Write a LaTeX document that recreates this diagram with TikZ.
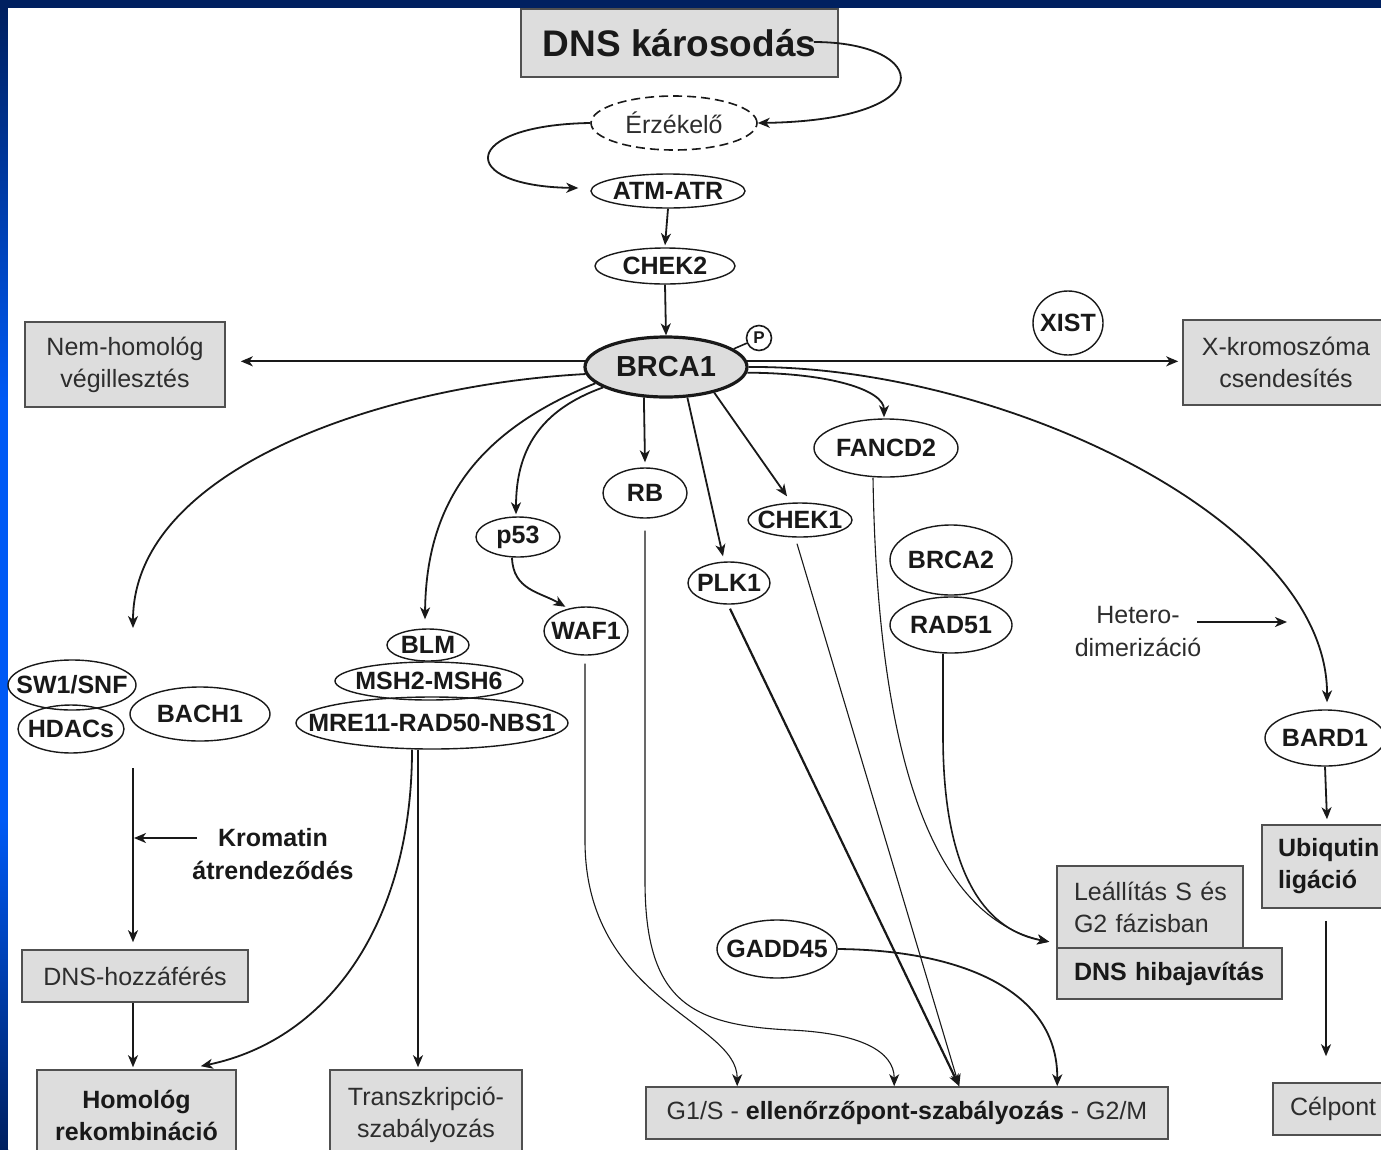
\documentclass[tikz,border=0pt]{standalone}
\usepackage{fontspec}
\setmainfont{Liberation Sans}
\usetikzlibrary{shapes.geometric,arrows.meta,calc}

\definecolor{navy}{RGB}{0,32,96}
\definecolor{slideblue}{RGB}{0,90,245}
\definecolor{boxgray}{RGB}{221,221,221}
\definecolor{edgegray}{RGB}{80,80,80}
\definecolor{ink}{RGB}{25,25,25}
\definecolor{softink}{RGB}{45,45,45}

\begin{document}
\begin{tikzpicture}[x=1pt,y=-1pt,
  >={Stealth[length=12pt,width=10pt,inset=3.5pt]},
  lab/.style={inner sep=0pt,text=ink,font=\fontsize{25}{31}\selectfont\bfseries},
  oval/.style={ellipse,draw=ink,line width=1.4pt,inner sep=0pt},
  box/.style={rectangle,draw=edgegray,fill=boxgray,line width=1.6pt,inner sep=0pt,
    text=softink,align=center,font=\fontsize{25}{32}\selectfont},
  boldbox/.style={box,text=ink,font=\fontsize{25}{32}\selectfont\bfseries},
  conn/.style={draw=ink,line width=1.8pt,->},
  lite/.style={draw=ink,line width=1.1pt,->},
]
\useasboundingbox (0,0) rectangle (1381,1149);
\clip (0,0) rectangle (1381,1149);

% slide frame
\fill[navy] (0,0) rectangle (1381,1149);
\shade[top color=navy,bottom color=slideblue] (0,8) rectangle (8,400);
\fill[slideblue] (0,399) rectangle (8,821);
\shade[top color=slideblue,bottom color=navy] (0,820) rectangle (8,1149);
\fill[white] (8,8) rectangle (1381,1149);

% ---------- boxes ----------
\node[box,font=\fontsize{37}{40}\selectfont\bfseries,text=ink,
  minimum width=317pt,minimum height=68pt] (dns) at (679.5,43) {DNS károsodás};
\node[box,minimum width=200pt,minimum height=85pt] (nem) at (125,364.5) {Nem-homológ\\végillesztés};
\node[box,minimum width=206pt,minimum height=85pt] (xk) at (1286,362.5) {X-kromoszóma\\csendesítés};
\node[box,minimum width=226pt,minimum height=52pt] (dnsh) at (135,976) {DNS-hozzáférés};
\node[boldbox,minimum width=199pt,minimum height=90pt] (homol) at (136.5,1115) {Homológ\\rekombináció};
\node[box,minimum width=192pt,minimum height=90pt] (transz) at (426,1115) {Transzkripció-\\szabályozás};
\node[box,minimum width=522pt,minimum height=52pt] (g1s) at (907,1113)
  {G1/S - \textbf{\color{ink}ellenőrzőpont-szabályozás} - G2/M};
\node[box,align=left,text width=152pt,inner xsep=17pt,minimum height=82pt] (leall) at (1150,907)
  {\mbox{Leállítás S és}\\\mbox{G2 fázisban}};
\node[boldbox,align=left,text width=191pt,inner xsep=17pt,minimum height=51pt] (hiba) at (1169.5,973.5)
  {DNS hibajavítás};
\node[boldbox,align=left,text width=106pt,inner xsep=16pt,minimum height=83pt] (ubiq) at (1331,866.5)
  {Ubiqutin\\ligáció};
\node[box,align=left,text width=93pt,inner xsep=17pt,minimum height=52pt] (celp) at (1336.5,1109)
  {Célpont};

% ---------- proteins ----------
\node[oval,dashed,dash pattern=on 9pt off 5pt,line width=1.6pt,minimum width=166pt,minimum height=54pt,
  label={[lab,font=\fontsize{25}{30}\selectfont,text=softink]center:Érzékelő}] (erz) at (674,123) {};
\node[oval,minimum width=154pt,minimum height=34pt,label={[lab]center:ATM-ATR}] (atm) at (668,191) {};
\node[oval,minimum width=140pt,minimum height=36pt,label={[lab]center:CHEK2}] (chek2) at (665,266) {};
\node[oval,fill=boxgray,line width=3.2pt,minimum width=162pt,minimum height=60pt,
  label={[lab,font=\fontsize{29}{30}\selectfont\bfseries]center:BRCA1}] (brca) at (666,367) {};
\node[circle,draw=ink,line width=1.6pt,minimum size=25pt,inner sep=0pt,text=ink,
  font=\fontsize{17}{17}\selectfont\bfseries] (pc) at (759,338) {P};
\node[oval,minimum width=70pt,minimum height=64pt,label={[lab]center:XIST}] (xist) at (1068,323) {};
\node[oval,minimum width=84pt,minimum height=50pt,label={[lab]center:RB}] (rb) at (645,493) {};
\node[oval,minimum width=84pt,minimum height=40pt,label={[lab]center:p53}] (p53) at (518,537) {};
\node[oval,minimum width=84pt,minimum height=48pt,label={[lab]center:WAF1}] (waf1) at (586,631) {};
\node[oval,minimum width=82pt,minimum height=42pt,label={[lab]center:PLK1}] (plk1) at (729,583) {};
\node[oval,minimum width=104pt,minimum height=34pt,label={[lab]center:CHEK1}] (chek1) at (800,520) {};
\node[oval,minimum width=144pt,minimum height=58pt,label={[lab]center:FANCD2}] (fancd2) at (886,448) {};
\node[oval,minimum width=122pt,minimum height=70pt,label={[lab]center:BRCA2}] (brca2) at (951,560) {};
\node[oval,minimum width=122pt,minimum height=56pt,label={[lab]center:RAD51}] (rad51) at (951,625) {};
\node[oval,minimum width=120pt,minimum height=56pt,label={[lab]center:BARD1}] (bard1) at (1325,738) {};
\node[oval,minimum width=120pt,minimum height=58pt,label={[lab]center:GADD45}] (gadd) at (777,949) {};
\node[oval,minimum width=128pt,minimum height=50pt,label={[lab]center:SW1/SNF}] (swi) at (72,685) {};
\node[oval,minimum width=106pt,minimum height=48pt,label={[lab]center:HDACs}] (hdac) at (71,729) {};
\node[oval,minimum width=140pt,minimum height=54pt,label={[lab]center:BACH1}] (bach) at (200,714) {};
\node[oval,minimum width=82pt,minimum height=32pt,label={[lab]center:BLM}] (blm) at (428,645) {};
\node[oval,minimum width=188pt,minimum height=38pt,label={[lab]center:MSH2-MSH6}] (msh) at (429,681) {};
\node[oval,minimum width=272pt,minimum height=52pt,label={[lab]center:MRE11-RAD50-NBS1}] (mre) at (432,723) {};

% ---------- free text ----------
\node[lab,align=center,font=\fontsize{25}{33}\selectfont\bfseries] (krom) at (273,854) {Kromatin\\átrendeződés};
\node[lab,align=center,text=softink,font=\fontsize{25}{33}\selectfont] (het) at (1138,632) {Hetero-\\dimerizáció};

% ---------- signalling cascade ----------
\draw[conn] ($(dns.east)+(-25,-1)$) .. controls (930,42) and (945,120) .. (erz.east);
\draw[conn] (erz.west) .. controls (460,125) and (455,186) .. ($(atm.west)+(-12,-3)$);
\draw[conn] (atm.south) -- ($(chek2.north)+(0,-2)$);
\draw[conn] (chek2.south) -- (brca.north);
\draw[ink,line width=1.6pt] (brca.15) -- (pc.203);

% ---------- BRCA1 targets ----------
\draw[conn] (brca.176) -- ($(brca.176 -| nem.east)+(15,0)$);
\draw[conn] (brca.4) -- ($(brca.4 -| xk.west)+(-4,0)$);
\coordinate (grptop) at (133,628);
\draw[conn] (brca.185) .. controls (380,385) and (133,470) .. (grptop);
\draw[conn] (brca.193) .. controls (480,430) and (426,500) .. ($(blm.north)+(-3,-9)$);
\draw[conn] (brca.198) .. controls (540,410) and (516,450) .. ($(p53.north)+(-2,-2)$);
\draw[conn] (brca.234) -- ($(rb.north)+(0,-5)$);
\draw[conn] (brca.305) -- ($(plk1.north)+(-6,-5)$);
\draw[conn] (brca.332) -- ($(chek1.north)+(-13,-6)$);
\draw[conn] (brca.356) .. controls (830,373) and (884,390) .. ($(fancd2.north)+(-2,-1)$);
\draw[conn] (brca.0) .. controls (1000,365) and (1328,520) .. ($(bard1.north)+(2,-7)$);
\draw[conn] ($(p53.south)+(-6,0)$) .. controls (513,590) and (540,592) .. ($(waf1.130)+(-2,-2)$);

% ---------- checkpoint control ----------
\draw[lite] ($(waf1.south)+(-1,8)$) -- ++(0,177) .. controls +(0,160) and +(0,-65) .. ($(g1s.north west)+(92,0)$);
\draw[lite] ($(rb.south)+(0,12)$) -- ++(0,350) .. controls +(0,120) and +(-100,-5) .. (790,1030)
  .. controls +(70,3) and +(0,-35) .. ($(g1s.north west)+(249,0)$);
\coordinate (g2m) at ($(g1s.north west)+(314,0)$);
\draw[conn,line width=2.2pt] ($(plk1.south)+(1,4)$) -- (g2m);
\draw[lite] ($(chek1.south)+(-3,6)$) -- (g2m);
\draw[conn] (gadd.east) .. controls (960,950) and (1058,990) .. ($(g1s.north west)+(412,0)$);

% ---------- repair / arrest ----------
\coordinate (stop) at ($(leall.south west)+(-7,-7)$);
\draw[lite] ($(fancd2.south)+(-13,0)$) .. controls (878,800) and (950,920) .. (stop);
\draw[conn,line width=1.6pt] ($(rad51.south)+(-8,0)$) -- ++(0,82) .. controls +(0,145) and +(-60,-11) .. (stop);

% ---------- BARD1 branch ----------
\draw[conn] (bard1.south) -- ($(bard1.south |- ubiq.north)+(2,-5)$);
\draw[conn] ($(bard1.south |- ubiq.south)+(1,12)$) -- ($(bard1.south |- celp.north)+(1,-26)$);
\coordinate (hetL) at (1197,622);
\coordinate (hetR) at (1287,622);
\draw[conn] (hetL) -- (hetR);

% ---------- chromatin branch ----------
\coordinate (grpbot) at (133,768);
\draw[conn] (grpbot) -- ($(grpbot |- dnsh.north)+(0,-7)$);
\coordinate (kromtail) at (197,838);
\draw[conn,line width=1.6pt,shorten >=1pt] (kromtail) -- (kromtail -| grpbot);
\draw[conn] (grpbot |- dnsh.south) -- ($(grpbot |- homol.north)+(0,-2)$);
\draw[conn] ($(mre.south)+(-20,0)$) .. controls +(0,170) and +(130,-27) .. ($(homol.north east)+(-36,-3)$);
\draw[conn] ($(mre.south)+(-14,0)$) -- ($(mre.south |- transz.north)+(-14,-2)$);

\end{tikzpicture}
\end{document}
